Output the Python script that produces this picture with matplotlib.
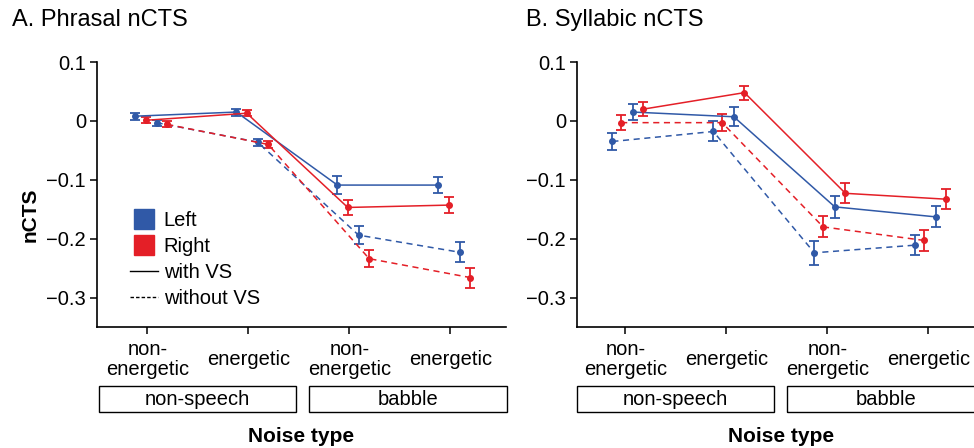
import numpy as np
import matplotlib
matplotlib.use('Agg')
import matplotlib.pyplot as plt
import matplotlib.transforms as mtransforms
from matplotlib.lines import Line2D
from matplotlib.patches import Rectangle

plt.rcParams['font.family'] = ['Liberation Sans', 'DejaVu Sans']

# Categorias do eixo x e grupos de ruído.
categories = ['non-\nenergetic', 'energetic', 'non-\nenergetic', 'energetic']
groups = ['non-speech', 'babble']
yticks = [0.1, 0, -0.1, -0.2, -0.3]
ytick_labels = ['0.1', '0', '\u22120.1', '\u22120.2', '\u22120.3']

# A. Phrasal nCTS: médias e erros.
phr_left_vs = [0.008, 0.015, -0.109, -0.109]
phr_left_vs_err = [0.006, 0.006, 0.015, 0.014]
phr_right_vs = [0.001, 0.013, -0.147, -0.143]
phr_right_vs_err = [0.005, 0.005, 0.012, 0.014]
phr_left_novs = [-0.003, -0.036, -0.194, -0.223]
phr_left_novs_err = [0.005, 0.006, 0.015, 0.017]
phr_right_novs = [-0.006, -0.040, -0.234, -0.266]
phr_right_novs_err = [0.005, 0.006, 0.014, 0.017]

# B. Syllabic nCTS: médias e erros.
syl_left_vs = [0.015, 0.007, -0.146, -0.163]
syl_left_vs_err = [0.014, 0.016, 0.019, 0.018]
syl_right_vs = [0.020, 0.048, -0.123, -0.133]
syl_right_vs_err = [0.012, 0.012, 0.017, 0.017]
syl_left_novs = [-0.035, -0.018, -0.224, -0.211]
syl_left_novs_err = [0.014, 0.017, 0.020, 0.017]
syl_right_novs = [-0.003, -0.003, -0.180, -0.203]
syl_right_novs_err = [0.013, 0.015, 0.018, 0.018]

BLUE = '#3059a7'
RED = '#e41f27'
colors = {'Left': BLUE, 'Right': RED}
styles = {'with VS': '-', 'without VS': (0, (4, 3))}

# Deslocamento horizontal de cada série dentro da categoria.
offsets_a = {('Left', 'with VS'): -0.12, ('Right', 'with VS'): -0.017,
             ('Left', 'without VS'): 0.09, ('Right', 'without VS'): 0.195}
offsets_b = {('Left', 'without VS'): -0.13, ('Right', 'without VS'): -0.043,
             ('Left', 'with VS'): 0.073, ('Right', 'with VS'): 0.178}

# Margens (esquerda, direita) das caixas dos grupos.
box_margins = [(0.48, 0.475), (0.40, 0.56)]

series_a = {('Left', 'with VS'): (phr_left_vs, phr_left_vs_err),
            ('Right', 'with VS'): (phr_right_vs, phr_right_vs_err),
            ('Left', 'without VS'): (phr_left_novs, phr_left_novs_err),
            ('Right', 'without VS'): (phr_right_novs, phr_right_novs_err)}
series_b = {('Left', 'with VS'): (syl_left_vs, syl_left_vs_err),
            ('Right', 'with VS'): (syl_right_vs, syl_right_vs_err),
            ('Left', 'without VS'): (syl_left_novs, syl_left_novs_err),
            ('Right', 'without VS'): (syl_right_novs, syl_right_novs_err)}

FS = 14.5


def draw_panel(ax, series, offsets):
    x = np.arange(len(categories))
    for key, (vals, errs) in series.items():
        hemi, vs = key
        ax.errorbar(x + offsets[key], vals, yerr=errs, color=colors[hemi],
                    linestyle=styles[vs], lw=1.1, marker='o', ms=4,
                    capsize=3.4, capthick=1.3, elinewidth=1.3)

    ax.set_xlim(-0.5, 3.55)
    ax.set_ylim(-0.35, 0.1)
    ax.set_yticks(yticks)
    ax.set_yticklabels(ytick_labels)
    ax.set_xticks(x)
    ax.set_xticklabels(categories, va='center', linespacing=1.05)
    ax.tick_params(axis='x', length=5, width=1.1, pad=18.5, labelsize=FS)
    ax.tick_params(axis='y', length=5, width=1.1, pad=3, labelsize=FS)
    for side in ['top', 'right']:
        ax.spines[side].set_visible(False)
    for side in ['left', 'bottom']:
        ax.spines[side].set_linewidth(1.2)

    # Caixas dos grupos de ruído abaixo dos rótulos.
    trans = mtransforms.blended_transform_factory(ax.transData, ax.transAxes)
    for i, name in enumerate(groups):
        x0 = x[2 * i] - box_margins[i][0]
        x1 = x[2 * i + 1] + box_margins[i][1]
        ax.add_patch(Rectangle((x0, -0.3226), x1 - x0, 0.1018, transform=trans,
                               clip_on=False, fill=False, lw=1.0, ec='black'))
        ax.text((x0 + x1) / 2, -0.2717, name, transform=trans, ha='center',
                va='center', fontsize=FS)

    ax.set_xlabel('Noise type', fontsize=15, fontweight='bold', va='center')
    ax.xaxis.set_label_coords(0.5, -0.415)


fig = plt.figure(figsize=(9.74, 4.48), dpi=100)
ax_a = fig.add_axes([97 / 974, 121 / 448, 409 / 974, 265 / 448])
ax_b = fig.add_axes([577 / 974, 121 / 448, 409 / 974, 265 / 448])

draw_panel(ax_a, series_a, offsets_a)
draw_panel(ax_b, series_b, offsets_b)
ax_b.set_xlim(-0.48, 3.57)

ax_a.set_ylabel('nCTS', fontsize=15, fontweight='bold', va='center')
ax_a.yaxis.set_label_coords(-0.164, 0.423)

fig.text(12 / 974, 1 - 20 / 448, 'A. Phrasal nCTS', fontsize=17, va='center')
fig.text(526 / 974, 1 - 20 / 448, 'B. Syllabic nCTS', fontsize=17, va='center')

handles = [Line2D([], [], ls='none', marker='s', ms=13.7, color=BLUE, label='Left'),
           Line2D([], [], ls='none', marker='s', ms=13.7, color=RED, label='Right'),
           Line2D([], [], color='black', lw=1.0, label='with VS'),
           Line2D([], [], color='black', lw=1.0, ls=(0, (2.5, 1.5)), label='without VS')]
ax_a.legend(handles=handles, loc='lower left', bbox_to_anchor=(0.045, 0.02),
            frameon=False, fontsize=FS, handlelength=1.4, handletextpad=0.3,
            labelspacing=0.34, borderpad=0.2)

fig.savefig('out.png', dpi=100)
